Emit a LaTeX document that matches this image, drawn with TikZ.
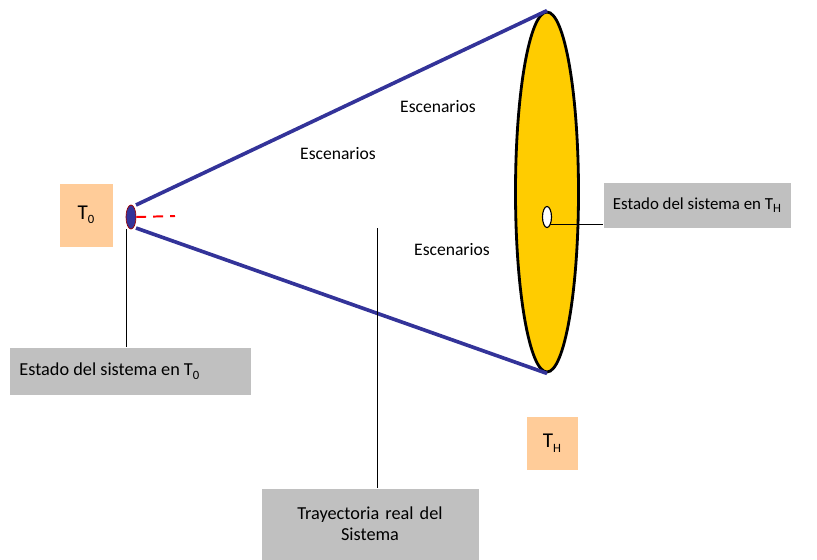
\documentclass[tikz,border=0pt]{standalone}
\usepackage{fontspec}
\setmainfont{Carlito}
\usepackage{tikz}
\usetikzlibrary{arrows.meta,positioning,shapes.geometric}

\definecolor{conoazul}{HTML}{333399}
\definecolor{borde}{HTML}{FFCC00}
\definecolor{caja}{HTML}{C0C0C0}
\definecolor{melon}{HTML}{FFCC99}

\newcommand{\sub}[1]{\raisebox{-0.45ex}{\small #1}}

\begin{document}
\begin{tikzpicture}[
    x=0.025cm, y=-0.025cm,
    font=\fontsize{13}{15}\selectfont,
    label/.style={fill=caja, inner sep=0pt},
    tiempo/.style={fill=melon, inner sep=0pt, font=\fontsize{15}{17}\selectfont},
    escena/.style={font=\fontsize{12.5}{14}\selectfont},
    cono/.style={draw=conoazul, line width=2.6pt},
    guia/.style={draw=black, line width=0.6pt},
  ]
  \useasboundingbox (0,0) rectangle (817,560);

  % Tiempos
  \node[tiempo, minimum width=53*0.025cm, minimum height=63*0.025cm] (t0) at (86,215) {T\sub{0}};
  \node[tiempo, minimum width=51*0.025cm, minimum height=53*0.025cm] (th) at (552,443) {T\sub{H}};

  % Horizonte
  \node[ellipse, draw=black, line width=2pt, fill=borde,
    minimum width=63*0.025cm, minimum height=360*0.025cm] (rim) at (547,192) {};
  \node[ellipse, draw=black, line width=0.8pt, fill=white,
    minimum width=9*0.025cm, minimum height=21*0.025cm, inner sep=0pt] (final) at (547,217) {};

  % Cono de escenarios
  \coordinate (sup) at (136,205);
  \coordinate (inf) at (136,228);
  \draw[cono] (sup) -- (rim.north);
  \draw[cono] (inf) -- (rim.south);
  \node[ellipse, draw=red!60!black, line width=0.5pt, fill=conoazul,
    minimum width=10*0.025cm, minimum height=24*0.025cm, inner sep=0pt] (inicio) at (131,217) {};
  \coordinate (rojo) at (175,216);
  \draw[red, line width=1.4pt, dash pattern=on 7pt off 5pt] (inicio.east) -- (rojo);

  \node[escena] (esc1) at (438,107) {Escenarios};
  \node[escena] (esc2) at (338,154) {Escenarios};
  \node[escena] (esc3) at (452,250) {Escenarios};

  % Cajas
  \node[label, minimum width=241*0.025cm, minimum height=47*0.025cm] (e0) at (130,371)
    {\makebox[5.525cm][l]{Estado del sistema en T\sub{0}}};
  \node[label, minimum width=187*0.025cm, minimum height=45*0.025cm,
    font=\fontsize{12}{14}\selectfont] (eh) at (697,205)
    {Estado del sistema en T\sub{H}};
  \node[label, minimum width=217*0.025cm, minimum height=71*0.025cm,
    text width=190*0.025cm, align=center] (tray) at (370,524)
    {Trayectoria real del\\Sistema};

  % Guias
  \draw[guia] (inicio.south) ++(-5,0) |- (e0.north -| 126,0);
  \draw[guia] (final.south east) -- (final.south east -| eh.west);
  \coordinate (centro) at (377,228);
  \draw[guia] (centro) -- (tray.north -| centro);
\end{tikzpicture}
\end{document}
